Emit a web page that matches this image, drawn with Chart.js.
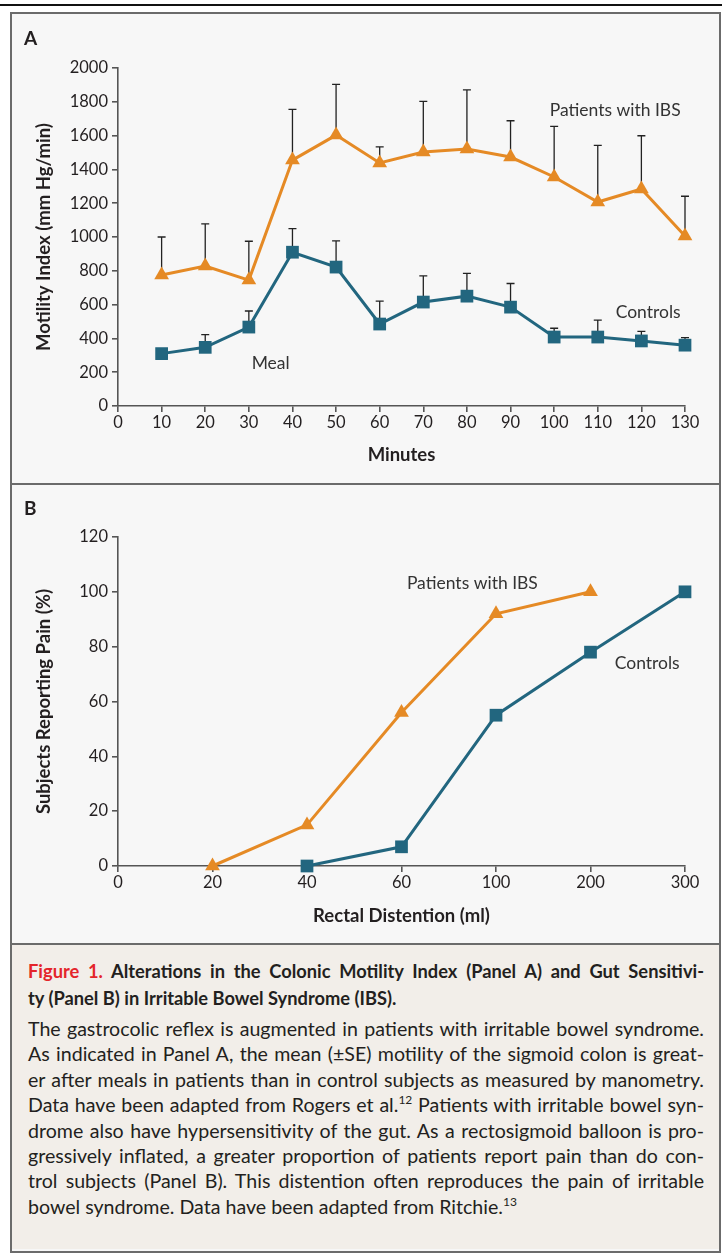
<!DOCTYPE html>
<html>
<head>
<meta charset="utf-8">
<script src="https://cdn.jsdelivr.net/npm/chart.js@4.4.1/dist/chart.umd.min.js"></script>
<style>
  html, body { margin: 0; padding: 0; background: #fff; }
  body { width: 722px; height: 1255px; position: relative; overflow: hidden; font-family: Lato, sans-serif; color: #231f20; }
  #rule { position: absolute; left: 0; top: 4px; width: 722px; height: 2px; background: #111; }
  #frame { position: absolute; left: 10px; top: 12px; width: 711px; height: 1241px; box-sizing: border-box; border: 2px solid #6b6b6b; background: #f7f7f7; }
  .panel { position: absolute; left: 0; width: 707px; }
  #pa { top: 0; height: 469px; }
  #pb { top: 469px; height: 458px; border-top: 2px solid #6b6b6b; }
  .letter { position: absolute; left: 12px; font-weight: 700; font-size: 19px; line-height: 20px; }
  #pa .letter { top: 14px; }
  #pb .letter { top: 13px; }
  .panel .wrap { position: absolute; left: 0; top: 0; width: 707px; height: 100%; }
  #caption { position: absolute; left: 0; top: 929px; width: 707px; height: 306px; border-top: 2px solid #6b6b6b; background: #f2eee9; box-sizing: border-box; padding: 13px 15px 0 16px; }
  #caption .ln { display: block; white-space: nowrap; }
  #caption .j { text-align: justify; text-align-last: justify; }
  .ttl { font-weight: 700; font-size: 18.3px; line-height: 27px; }
  .red { color: #e4252b; }
  .body { font-size: 19.6px; line-height: 25.4px; margin-top: 4px; }
  sup { font-size: 12px; line-height: 0; }
</style>
</head>
<body>
<div id="rule"></div>
<div id="frame">
  <div class="panel" id="pa"><div class="wrap"><canvas id="chartA"></canvas></div><div class="letter">A</div></div>
  <div class="panel" id="pb"><div class="wrap"><canvas id="chartB"></canvas></div><div class="letter">B</div></div>
  <div id="caption">
    <div class="ttl">
      <span class="ln j"><span class="red">Figure 1.</span> Alterations in the Colonic Motility Index (Panel A) and Gut Sensitivi-</span>
      <span class="ln">ty (Panel B) in Irritable Bowel Syndrome (IBS).</span>
    </div>
    <div class="body">
      <span class="ln j">The gastrocolic reflex is augmented in patients with irritable bowel syndrome.</span>
      <span class="ln j">As indicated in Panel A, the mean (±SE) motility of the sigmoid colon is great-</span>
      <span class="ln j">er after meals in patients than in control subjects as measured by manometry.</span>
      <span class="ln j">Data have been adapted from Rogers et al.<sup>12</sup> Patients with irritable bowel syn-</span>
      <span class="ln j">drome also have hypersensitivity of the gut. As a rectosigmoid balloon is pro-</span>
      <span class="ln j">gressively inflated, a greater proportion of patients report pain than do con-</span>
      <span class="ln j">trol subjects (Panel B). This distention often reproduces the pain of irritable</span>
      <span class="ln">bowel syndrome. Data have been adapted from Ritchie.<sup>13</sup></span>
    </div>
  </div>
</div>
<script>
// Panel A: colonic motility index after a meal
const minutes = [10, 20, 30, 40, 50, 60, 70, 80, 90, 100, 110, 120, 130];
const ibsMotility = [775, 828, 745, 1455, 1603, 1438, 1503, 1520, 1473, 1355, 1207, 1284, 1006];
const ibsMotilitySE = [225, 250, 230, 300, 300, 95, 300, 350, 215, 300, 335, 315, 235];
const controlMotility = [310, 347, 467, 910, 822, 485, 615, 650, 585, 408, 408, 385, 360];
const controlMotilitySE = [0, 75, 95, 140, 155, 135, 155, 135, 140, 52, 100, 57, 45];

// Panel B: subjects reporting pain
const distentionTicks = ['0', '20', '40', '60', '100', '200', '300'];
const ibsDistention = ['20', '40', '60', '100', '200'];
const ibsPain = [0, 15, 56, 92, 100];
const controlDistention = ['40', '60', '100', '200', '300'];
const controlPain = [0, 7, 55, 78, 100];

const ORANGE = '#e58a25';
const TEAL = '#22667f';
const AXIS = '#555555';
const TEXT = '#231f20';

Chart.defaults.font.family = 'Lato, sans-serif';
Chart.defaults.color = TEXT;
Chart.defaults.animation = false;

const errorBars = {
  id: 'errorBars',
  beforeDatasetsDraw(chart) {
    const ctx = chart.ctx;
    const ys = chart.scales.y;
    ctx.save();
    ctx.strokeStyle = '#222';
    ctx.lineWidth = 1.3;
    chart.data.datasets.forEach((ds, i) => {
      if (!ds.errorPlus) return;
      const meta = chart.getDatasetMeta(i);
      meta.data.forEach((pt, j) => {
        const se = ds.errorPlus[j];
        if (!se) return;
        const top = ys.getPixelForValue(ds.data[j].y + se);
        ctx.beginPath();
        ctx.moveTo(pt.x, pt.y);
        ctx.lineTo(pt.x, top);
        ctx.moveTo(pt.x - 4, top);
        ctx.lineTo(pt.x + 4, top);
        ctx.stroke();
      });
    });
    ctx.restore();
  }
};

const labels = {
  id: 'labels',
  afterDatasetsDraw(chart, args, opts) {
    const ctx = chart.ctx;
    ctx.save();
    ctx.font = '17.5px Lato, sans-serif';
    ctx.fillStyle = '#333';
    ctx.textBaseline = 'middle';
    (opts.items || []).forEach(it => {
      ctx.textAlign = it.align || 'center';
      ctx.fillText(it.text, chart.scales.x.getPixelForValue(it.x), chart.scales.y.getPixelForValue(it.y));
    });
    ctx.restore();
  }
};

const plain = v => String(v);

function axis(extra) {
  return Object.assign({
    border: { color: AXIS, width: 1.6 },
    grid: { drawOnChartArea: false, color: AXIS, lineWidth: 1.6, tickLength: 6 }
  }, extra);
}

function lineSet(label, xs, ys, color, style, radius, se) {
  return {
    label: label,
    data: xs.map((x, i) => ({ x: x, y: ys[i] })),
    borderColor: color,
    backgroundColor: color,
    borderWidth: 3,
    pointStyle: style,
    pointRadius: radius,
    pointBorderWidth: 0,
    tension: 0,
    clip: false,
    errorPlus: se
  };
}

const tickFont = { size: 16.5 };
const titleFont = { size: 18.5, weight: 'bold' };

new Chart(document.getElementById('chartA'), {
  type: 'line',
  data: {
    datasets: [
      lineSet('Patients with IBS', minutes, ibsMotility, ORANGE, 'triangle', 8.5, ibsMotilitySE),
      lineSet('Controls', minutes, controlMotility, TEAL, 'rect', 9, controlMotilitySE)
    ]
  },
  options: {
    responsive: true,
    maintainAspectRatio: false,
    layout: { padding: { left: 0, right: 34, top: 54, bottom: 7 } },
    plugins: {
      legend: { display: false },
      tooltip: { enabled: false },
      labels: {
        items: [
          { text: 'Patients with IBS', x: 129, y: 1750, align: 'right' },
          { text: 'Controls', x: 129, y: 556, align: 'right' },
          { text: 'Meal', x: 35, y: 250 }
        ]
      }
    },
    scales: {
      x: axis({
        type: 'linear', min: 0, max: 130,
        ticks: { color: TEXT, font: tickFont, stepSize: 10, padding: 1, callback: plain },
        title: { display: true, text: 'Minutes', font: titleFont, color: TEXT, padding: { top: 0, bottom: 10 } },
        afterFit: s => { s.height = 70; }
      }),
      y: axis({
        type: 'linear', min: 0, max: 2000,
        ticks: { color: TEXT, font: tickFont, stepSize: 200, padding: 4, callback: plain },
        title: { display: true, text: 'Motility Index (mm Hg/min)', font: titleFont, color: TEXT, padding: { top: 21, bottom: 0 } },
        afterFit: s => { s.width = 106; }
      })
    }
  },
  plugins: [errorBars, labels]
});

new Chart(document.getElementById('chartB'), {
  type: 'line',
  data: {
    labels: distentionTicks,
    datasets: [
      lineSet('Patients with IBS', ibsDistention, ibsPain, ORANGE, 'triangle', 8.5, null),
      lineSet('Controls', controlDistention, controlPain, TEAL, 'rect', 9, null)
    ]
  },
  options: {
    responsive: true,
    maintainAspectRatio: false,
    layout: { padding: { left: 0, right: 34, top: 52, bottom: 7 } },
    plugins: {
      legend: { display: false },
      tooltip: { enabled: false },
      labels: {
        items: [
          { text: 'Patients with IBS', x: 3.75, y: 103 },
          { text: 'Controls', x: 5.6, y: 74 }
        ]
      }
    },
    scales: {
      x: axis({
        type: 'category', offset: false,
        ticks: { color: TEXT, font: tickFont, padding: 1 },
        title: { display: true, text: 'Rectal Distention (ml)', font: titleFont, color: TEXT, padding: { top: 0, bottom: 9 } },
        afterFit: s => { s.height = 70; }
      }),
      y: axis({
        type: 'linear', min: 0, max: 120,
        ticks: { color: TEXT, font: tickFont, stepSize: 20, padding: 4, callback: plain },
        title: { display: true, text: 'Subjects Reporting Pain (%)', font: titleFont, color: TEXT, padding: { top: 21, bottom: 0 } },
        afterFit: s => { s.width = 106; }
      })
    }
  },
  plugins: [labels]
});
</script>
</body>
</html>
